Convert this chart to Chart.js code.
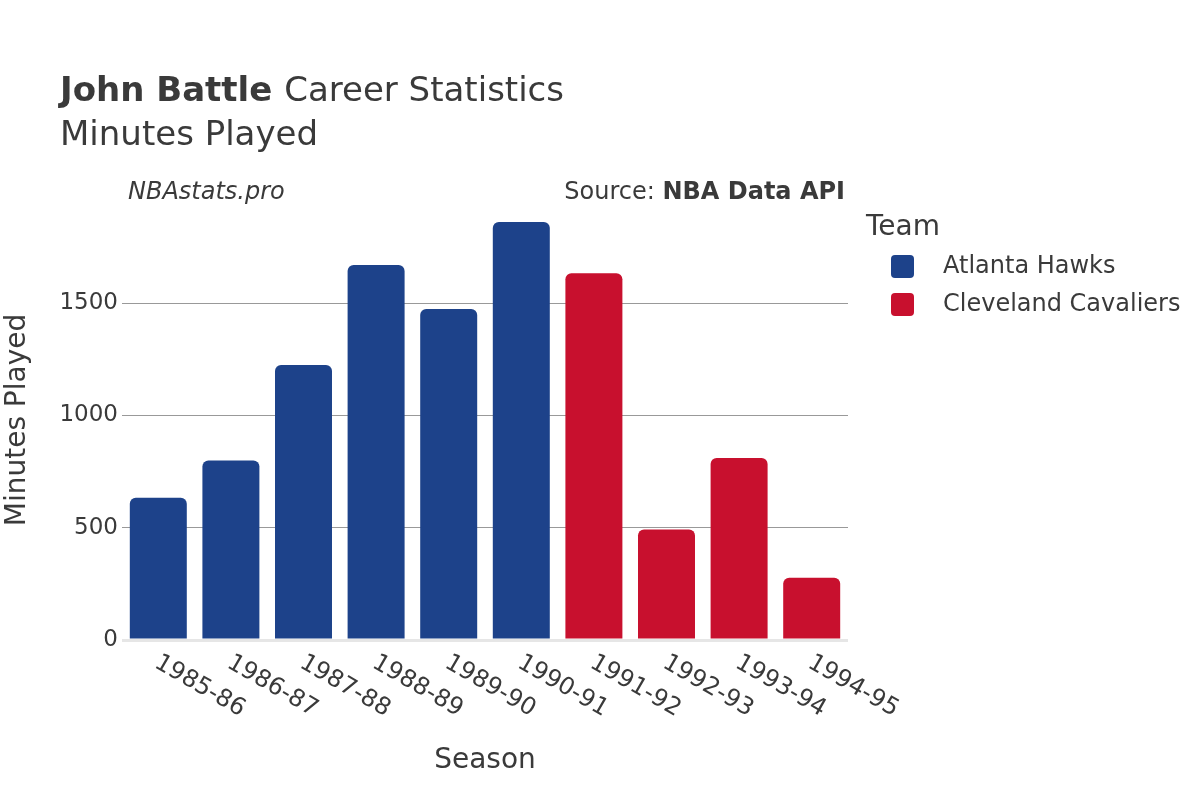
<!DOCTYPE html>
<html>
<head>
<meta charset="utf-8">
<script src="https://cdn.jsdelivr.net/npm/chart.js@4/dist/chart.umd.min.js"></script>
<style>
  html, body { margin: 0; padding: 0; background: #fff; }
  #wrap { width: 1200px; height: 800px; }
</style>
</head>
<body>
<div id="wrap"><canvas id="chart" width="1200" height="800"></canvas></div>
<script>
// Données du graphique
const seasons = ['1985-86', '1986-87', '1987-88', '1988-89', '1989-90', '1990-91', '1991-92', '1992-93', '1993-94', '1994-95'];
const teams = ['Atlanta Hawks', 'Cleveland Cavaliers'];
const hawksMinutes = [634, 800, 1225, 1671, 1475, 1862, null, null, null, null];
const cavsMinutes = [null, null, null, null, null, null, 1634, 492, 811, 277];
const yTicks = [0, 500, 1000, 1500];

const teamColors = ['#1d428a', '#c8102e'];
const FONT = '"DejaVu Sans", sans-serif';
const TEXT = '#3a3a3a';

// Textes dessinés à la main (titre, légende, étiquettes de l'axe x)
const decorPlugin = {
  id: 'decor',
  afterDraw(chart) {
    const ctx = chart.ctx;
    const xs = chart.scales.x;
    ctx.save();
    ctx.fillStyle = TEXT;

    // titre
    ctx.textBaseline = 'alphabetic';
    ctx.textAlign = 'left';
    ctx.font = 'bold 34px ' + FONT;
    ctx.fillText('John Battle', 60, 101);
    const w = ctx.measureText('John Battle ').width;
    ctx.font = '34px ' + FONT;
    ctx.fillText('Career Statistics', 60 + w, 101);
    ctx.fillText('Minutes Played', 60, 145);

    // crédits
    ctx.textBaseline = 'middle';
    ctx.font = 'italic 24px ' + FONT;
    ctx.fillText('NBAstats.pro', 128, 193);
    ctx.textAlign = 'right';
    ctx.font = 'bold 24px ' + FONT;
    ctx.fillText('NBA Data API', 845, 193);
    const bw = ctx.measureText('NBA Data API').width;
    ctx.font = '24px ' + FONT;
    ctx.fillText('Source: ', 845 - bw, 193);

    // étiquettes de l'axe x, tournées
    ctx.textAlign = 'left';
    ctx.font = '24px ' + FONT;
    seasons.forEach((s, i) => {
      const x = xs.getPixelForValue(i);
      ctx.save();
      ctx.translate(x - 2, 661);
      ctx.rotate(Math.PI / 6);
      ctx.fillText(s, 0, 0);
      ctx.restore();
    });

    // titres des axes
    ctx.textAlign = 'center';
    ctx.font = '28px ' + FONT;
    ctx.fillText('Season', 485, 761);
    ctx.save();
    ctx.translate(18, 420);
    ctx.rotate(-Math.PI / 2);
    ctx.fillText('Minutes Played', 0, 0);
    ctx.restore();

    // légende
    ctx.textAlign = 'left';
    ctx.font = '28px ' + FONT;
    ctx.fillText('Team', 866, 228);
    ctx.font = '24px ' + FONT;
    teams.forEach((t, i) => {
      const y = 266 + i * 38;
      ctx.fillStyle = teamColors[i];
      ctx.beginPath();
      ctx.roundRect(891, y - 11, 23, 23, 4);
      ctx.fill();
      ctx.fillStyle = TEXT;
      ctx.fillText(t, 943, y + 1);
    });
    ctx.restore();
  }
};

const ctx = document.getElementById('chart').getContext('2d');
const chart = new Chart(ctx, {
  type: 'bar',
  data: {
    labels: seasons,
    datasets: [
      {
        label: teams[0],
        data: hawksMinutes,
        backgroundColor: teamColors[0],
        borderRadius: 6,
        borderSkipped: 'bottom'
      },
      {
        label: teams[1],
        data: cavsMinutes,
        backgroundColor: teamColors[1],
        borderRadius: 6,
        borderSkipped: 'bottom'
      }
    ]
  },
  options: {
    responsive: false,
    animation: false,
    layout: { padding: { top: 200, right: 352, bottom: 160, left: 0 } },
    datasets: { bar: { grouped: false, barPercentage: 0.785, categoryPercentage: 1 } },
    scales: {
      x: {
        ticks: { display: false },
        grid: { display: false },
        border: { display: false },
        afterFit: s => { s.height = 0; }
      },
      y: {
        min: 0,
        max: 1960,
        afterBuildTicks: s => { s.ticks = yTicks.map(v => ({ value: v })); },
        afterFit: s => { s.width = 122; },
        ticks: {
          color: TEXT,
          font: { family: FONT, size: 23 },
          padding: 4,
          callback: v => String(v)
        },
        grid: {
          drawTicks: false,
          color: c => c.tick.value === 0 ? '#e6e6e6' : '#999',
          lineWidth: c => c.tick.value === 0 ? 3 : 1
        },
        border: { display: false }
      }
    },
    plugins: {
      legend: { display: false },
      tooltip: { enabled: false },
      title: { display: false }
    }
  },
  plugins: [decorPlugin]
});
</script>
</body>
</html>
